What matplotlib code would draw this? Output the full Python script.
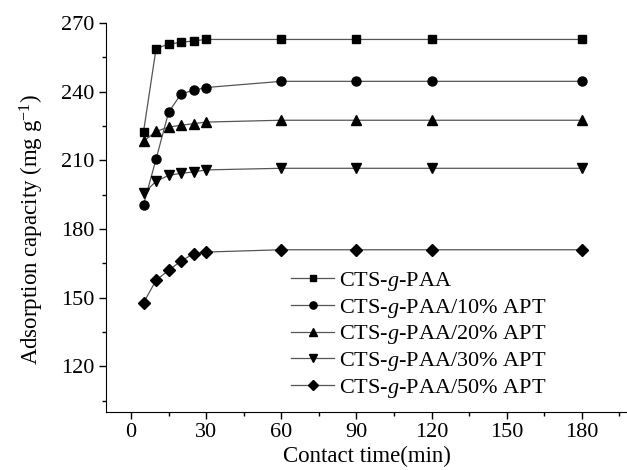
import numpy as np
import matplotlib.pyplot as plt
from matplotlib.ticker import MultipleLocator

plt.rcParams['font.family'] = ['Liberation Serif', 'DejaVu Serif']
plt.rcParams['mathtext.fontset'] = 'custom'
plt.rcParams['mathtext.rm'] = 'Liberation Serif'
plt.rcParams['mathtext.it'] = 'Liberation Serif:italic'

# contact time (min)
t = [5, 10, 15, 20, 25, 30, 60, 90, 120, 180]

# adsorption capacity (mg/g)
paa = [222.5, 258.8, 260.8, 261.5, 262.2, 262.8, 262.8, 262.8, 262.8, 262.8]
apt10 = [190.5, 210.5, 231.0, 239.0, 240.6, 241.8, 244.5, 244.5, 244.5, 244.5]
apt20 = [218.3, 222.6, 224.5, 225.3, 226.0, 226.7, 227.5, 227.5, 227.5, 227.5]
apt30 = [195.5, 200.8, 203.4, 204.3, 204.9, 205.8, 206.5, 206.5, 206.5, 206.5]
apt50 = [147.7, 157.6, 161.9, 166.0, 169.2, 169.9, 170.9, 170.9, 170.9, 170.9]

labels = ['CTS-$\\it{g}$-PAA',
          'CTS-$\\it{g}$-PAA/10% APT',
          'CTS-$\\it{g}$-PAA/20% APT',
          'CTS-$\\it{g}$-PAA/30% APT',
          'CTS-$\\it{g}$-PAA/50% APT']

fig = plt.figure(figsize=(6.27, 4.70), dpi=100)
ax = fig.add_axes([0.169, 0.1234, 0.831, 0.8277])

series = [paa, apt10, apt20, apt30, apt50]
markers = ['s', 'o', '^', 'v', 'D']
sizes = [5.5, 6.5, 7.5, 7.5, 6]
for y, m, ms, lab in zip(series, markers, sizes, labels):
    ax.plot(t, y, color='#555555', lw=0.9, marker=m, ms=ms,
            mfc='black', mec='black', label=lab)

ax.set_xlim(-10, 198)
ax.set_ylim(100, 270)
ax.xaxis.set_major_locator(MultipleLocator(30))
ax.xaxis.set_minor_locator(MultipleLocator(15))
ax.set_yticks([120, 150, 180, 210, 240, 270])
ax.set_yticks([105, 135, 165, 195, 225, 255], minor=True)

ax.spines['top'].set_visible(False)
ax.spines['right'].set_visible(False)
ax.tick_params(which='major', direction='out', length=5, width=1, labelsize=16, pad=3)
ax.tick_params(which='minor', direction='out', length=3, width=1)

ax.set_xlabel('Contact time(min)', fontsize=16.5)
ax.xaxis.set_label_coords(0.5, -0.088)
ax.set_ylabel('Adsorption capacity (mg g$^{\\mathregular{-1}}$)', fontsize=16.5)
ax.yaxis.set_label_coords(-0.116, 0.468)

ax.legend(loc='upper left', bbox_to_anchor=(0.45, 0.445), bbox_transform=fig.transFigure,
          frameon=False, fontsize=16, handlelength=1.95, handletextpad=0.2,
          labelspacing=0.17, markerscale=0.8, borderaxespad=0)

fig.savefig('out.png', dpi=100)
